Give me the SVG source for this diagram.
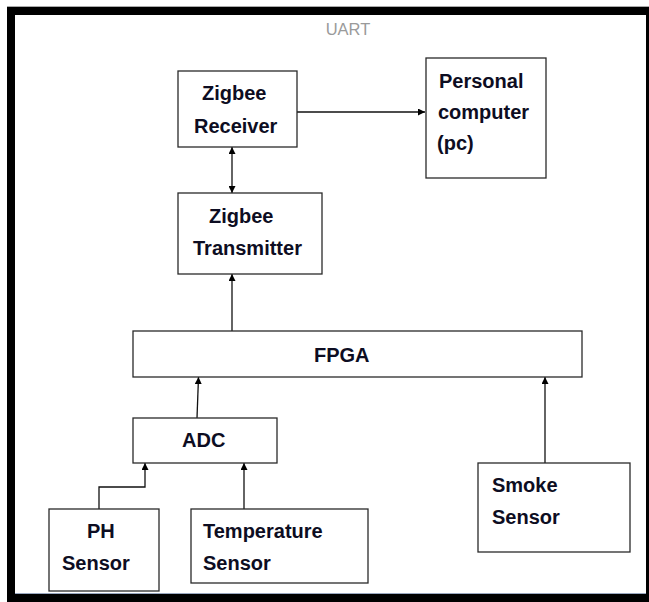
<svg xmlns="http://www.w3.org/2000/svg" width="649" height="602" viewBox="0 0 649 602">
<style>
.box{fill:#fff;stroke:#2a2a2a;stroke-width:1.3}
.t{font-family:"Liberation Sans",Arial,sans-serif;font-weight:bold;font-size:20px;fill:#0d0d22}
.c{fill:none;stroke:#111;stroke-width:1.3}
</style>
<defs>
<marker id="ah" viewBox="0 0 10 10" refX="10" refY="5" markerWidth="7" markerHeight="7" markerUnits="userSpaceOnUse" orient="auto-start-reverse">
<path d="M0,0 L10,5 L0,10 z" fill="#000"/>
</marker>
</defs>
<rect x="0" y="0" width="649" height="602" fill="#fff"/>
<rect x="7" y="6" width="642" height="1" fill="#aaa"/>
<rect x="7" y="7" width="642" height="595" fill="#000"/>
<rect x="15" y="15" width="631" height="579" fill="#fff"/>
<rect x="15" y="593" width="631" height="1" fill="#9aa8c0"/>
<text x="348" y="35" text-anchor="middle" font-family="'Liberation Sans',Arial,sans-serif" font-size="16.5" fill="#9a9a9a">UART</text>

<g id="connectors">
<line class="c" x1="297" y1="112" x2="425" y2="112" marker-end="url(#ah)"/>
<line class="c" x1="232" y1="147" x2="232" y2="193" marker-start="url(#ah)" marker-end="url(#ah)"/>
<line class="c" x1="232" y1="331" x2="232" y2="274" marker-end="url(#ah)"/>
<line class="c" x1="197" y1="418" x2="198.5" y2="377" marker-end="url(#ah)"/>
<polyline class="c" points="99,509 99,487 145,487 145,463" marker-end="url(#ah)"/>
<line class="c" x1="244" y1="509" x2="244" y2="463" marker-end="url(#ah)"/>
<line class="c" x1="545" y1="463" x2="545" y2="377" stroke="#555" marker-end="url(#ah)"/>
</g>

<g id="zigbee-receiver">
<rect class="box" x="178" y="71" width="119" height="76"/>
<text class="t" x="202" y="100">Zigbee</text>
<text class="t" x="194" y="133">Receiver</text>
</g>
<g id="personal-computer">
<rect class="box" x="426" y="58" width="120" height="120"/>
<text class="t" x="439" y="88">Personal</text>
<text class="t" x="438" y="119">computer</text>
<text class="t" x="437" y="150">(pc)</text>
</g>
<g id="zigbee-transmitter">
<rect class="box" x="178" y="193" width="144" height="81"/>
<text class="t" x="209" y="223">Zigbee</text>
<text class="t" x="193" y="255">Transmitter</text>
</g>
<g id="fpga">
<rect class="box" x="133" y="331" width="449" height="46"/>
<text class="t" x="314" y="362">FPGA</text>
</g>
<g id="adc">
<rect class="box" x="133" y="418" width="144" height="45"/>
<text class="t" x="182" y="447">ADC</text>
</g>
<g id="ph-sensor">
<rect class="box" x="49" y="509" width="110" height="82"/>
<text class="t" x="87" y="538">PH</text>
<text class="t" x="62" y="570">Sensor</text>
</g>
<g id="temperature-sensor">
<rect class="box" x="191" y="509" width="177" height="74"/>
<text class="t" x="203" y="538">Temperature</text>
<text class="t" x="203" y="570">Sensor</text>
</g>
<g id="smoke-sensor">
<rect class="box" x="478" y="463" width="152" height="89"/>
<text class="t" x="492" y="492">Smoke</text>
<text class="t" x="492" y="524">Sensor</text>
</g>
</svg>
